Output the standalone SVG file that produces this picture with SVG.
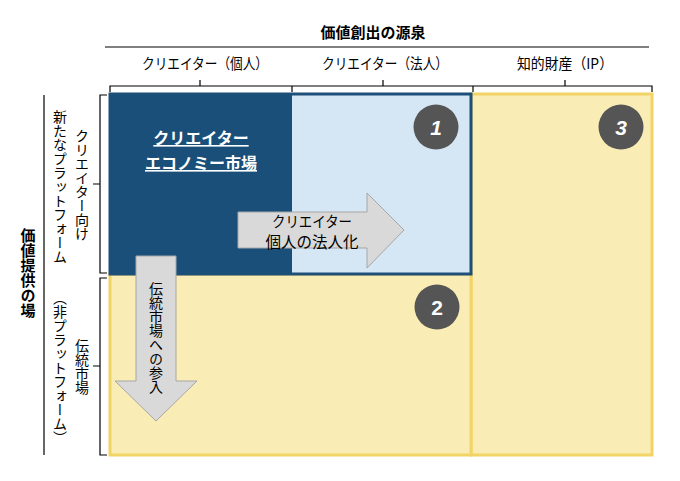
<svg xmlns="http://www.w3.org/2000/svg" width="680" height="481" viewBox="0 0 680 481">
<style>
text{font-family:"Noto Sans CJK JP","Noto Sans",sans-serif;fill:#000}
.lbl{font-size:15px;text-anchor:middle}
.vt{font-size:14px;writing-mode:vertical-rl;text-anchor:middle}
.brk{fill:none;stroke:#000;stroke-width:1.2}
.yel{fill:#faecb5;stroke:#f2d466;stroke-width:3}
.arr{fill:#d9d9d9;stroke:#a6a6a6;stroke-width:1}
.num{fill:#555555}
.numt{fill:#fff;font-family:"Liberation Sans",Arial,sans-serif;font-weight:bold;font-size:21px;text-anchor:middle}
</style>
<rect width="680" height="481" fill="#ffffff"/>
<g id="header">
<text x="373" y="38" text-anchor="middle" style="font-size:15px;font-weight:bold">価値創出の源泉</text>
<line x1="105" y1="47" x2="649" y2="47" stroke="#000" stroke-width="1.2"/>
<text class="lbl" x="205" y="69" textLength="126" lengthAdjust="spacingAndGlyphs">クリエイター（個人）</text>
<text class="lbl" x="385" y="69" textLength="126" lengthAdjust="spacingAndGlyphs">クリエイター（法人）</text>
<text class="lbl" x="565" y="69" textLength="96" lengthAdjust="spacingAndGlyphs">知的財産（IP）</text>
<path class="brk" d="M110,92 V86 H652 V92 M292,86 V92 M473,86 V92 M200,86 V80 M383,86 V80 M565,86 V80"/>
</g>
<g id="side">
<text class="vt" x="28" y="273" style="font-weight:bold;font-size:15px">価値提供の場</text>
<line x1="44" y1="95" x2="44" y2="455" stroke="#000" stroke-width="1.2"/>
<path class="brk" d="M107,95 H100 V273 H107 M100,184 H93"/>
<path class="brk" d="M107,278 H100 V455 H107 M100,366 H93"/>
<text class="vt" x="82" y="185">クリエイター向け</text>
<text class="vt" x="60" y="187">新たなプラットフォーム</text>
<text class="vt" x="82" y="367">伝統市場</text>
<text class="vt" x="60" y="368">（非プラットフォーム）</text>
</g>
<g id="cell-ip">
<rect class="yel" x="471" y="94" width="181" height="361"/>
</g>
<g id="cell-traditional">
<rect class="yel" x="110" y="274" width="361" height="181"/>
</g>
<g id="cell-corporate">
<rect x="110" y="94" width="361" height="180" fill="#d5e6f5" stroke="#1f4e79" stroke-width="3"/>
</g>
<g id="cell-creator-economy">
<rect x="110" y="94" width="182" height="180" fill="#1a4f7a"/>
<text x="201" y="144" text-anchor="middle" style="fill:#fff;font-size:16px;font-weight:bold;text-decoration:underline">クリエイター</text>
<text x="201" y="169" text-anchor="middle" style="fill:#fff;font-size:16px;font-weight:bold;text-decoration:underline">エコノミー市場</text>
</g>
<g id="connectors">
<g id="arrow-incorporate">
<polygon class="arr" points="238,212 367,212 367,193 404,230 367,268 367,248 238,248"/>
<text x="312" y="227" text-anchor="middle" style="font-size:15px" textLength="80" lengthAdjust="spacingAndGlyphs">クリエイター</text>
<text x="312" y="248" text-anchor="middle" style="font-size:15.5px">個人の法人化</text>
</g>
<g id="arrow-traditional">
<polygon class="arr" points="136,256 176,256 176,381 197,381 156,421 115,381 136,381"/>
<text class="vt" x="156" y="338">伝統市場への参入</text>
</g>
</g>
<g id="badge-1">
<circle class="num" cx="436" cy="127" r="22.5"/>
<text class="numt" x="436" y="135" font-style="italic">1</text>
</g>
<g id="badge-2">
<circle class="num" cx="437" cy="307" r="22.5"/>
<text class="numt" x="437" y="315">2</text>
</g>
<g id="badge-3">
<circle class="num" cx="621" cy="127" r="22.5"/>
<text class="numt" x="621" y="135" font-style="italic">3</text>
</g>
</svg>
